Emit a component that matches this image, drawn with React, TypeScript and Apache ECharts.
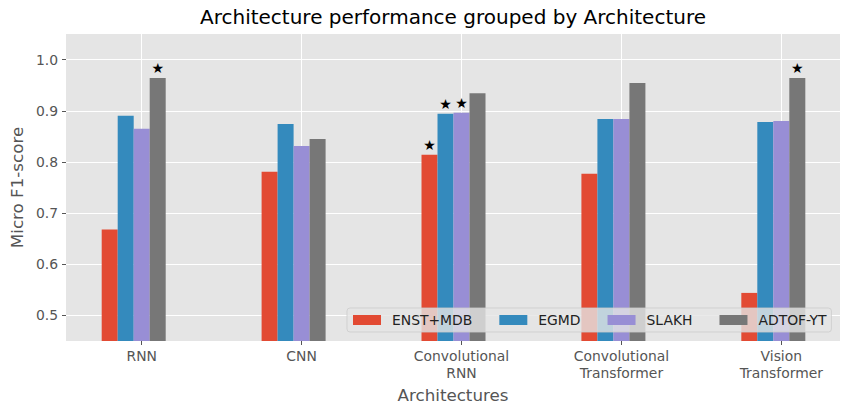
import React, { useEffect, useRef } from "react";
import * as echarts from "echarts";

const categories = ["RNN", "CNN", "Convolutional\nRNN", "Convolutional\nTransformer", "Vision\nTransformer"];
const seriesNames = ["ENST+MDB", "EGMD", "SLAKH", "ADTOF-YT"];
const enstMdb = [0.668, 0.781, 0.814, 0.777, 0.544];
const egmd = [0.890, 0.874, 0.894, 0.884, 0.878];
const slakh = [0.865, 0.831, 0.896, 0.884, 0.880];
const adtofYt = [0.964, 0.845, 0.934, 0.954, 0.964];
// which bars carry a star marker
const starEnstMdb = [false, false, true, false, false];
const starEgmd = [false, false, true, false, false];
const starSlakh = [false, false, true, false, false];
const starAdtofYt = [true, false, false, false, true];
const yTicks = [0.5, 0.6, 0.7, 0.8, 0.9, 1.0];
const xTicks = [0, 1, 2, 3, 4];

const colors = ["#E24A33", "#348ABD", "#988ED5", "#777777"];
const FONT = "DejaVu Sans";

export default function App() {
  const ref = useRef<HTMLDivElement>(null);
  useEffect(() => {
    if (!ref.current) return;
    const chart = echarts.init(ref.current, null, { renderer: "svg" });
    const allValues = [enstMdb, egmd, slakh, adtofYt];
    const allStars = [starEnstMdb, starEgmd, starSlakh, starAdtofYt];
    const series: any[] = seriesNames.map((name, si) => ({
      name,
      type: "bar",
      barWidth: 16,
      barGap: "0%",
      itemStyle: { color: colors[si] },
      data: allValues[si].map((v, i) => ({
        value: [i, v],
        label: allStars[si][i]
          ? {
              show: true,
              position: "top",
              distance: 3,
              formatter: "★",
              fontSize: 14,
              color: "#000",
              fontFamily: FONT,
            }
          : { show: false },
      })),
    }));
    // empty slot so that the third bar of each group sits on the tick (as in the original layout)
    series.push({ name: "_pad", type: "bar", barWidth: 16, barGap: "0%", data: [] });
    chart.setOption({
      animation: false,
      backgroundColor: "#fff",
      textStyle: { fontFamily: FONT },
      title: {
        text: "Architecture performance grouped by Architecture",
        left: 453,
        textAlign: "center",
        top: 7,
        padding: 0,
        textStyle: { fontSize: 20, fontWeight: "normal", color: "#000", fontFamily: FONT },
      },
      legend: {
        data: seriesNames,
        left: 347,
        top: 308,
        orient: "horizontal",
        itemWidth: 28,
        itemHeight: 10,
        itemGap: 27,
        padding: [5, 5, 5, 6],
        backgroundColor: "rgba(229,229,229,0.8)",
        borderColor: "rgba(204,204,204,0.8)",
        borderWidth: 1,
        borderRadius: 3,
        icon: "rect",
        textStyle: { fontSize: 13.9, color: "#222", fontFamily: FONT, padding: [0, 0, 0, 6] },
      },
      grid: { left: 66, right: 10, top: 34, bottom: 73, backgroundColor: "#E5E5E5", show: true, borderWidth: 0 },
      xAxis: {
        type: "value",
        min: -0.4734,
        max: 4.367,
        name: "Architectures",
        nameLocation: "middle",
        nameGap: 45,
        nameTextStyle: { fontSize: 16.7, color: "#555", fontFamily: FONT },
        axisLine: { show: false, onZero: false },
        axisTick: { show: true, customValues: xTicks, length: 4, lineStyle: { color: "#555" } },
        axisLabel: {
          customValues: xTicks,
          formatter: (v: number) => categories[Math.round(v)],
          fontSize: 13.9,
          color: "#555",
          lineHeight: 16.5,
          margin: 7,
          fontFamily: FONT,
        },
        splitLine: { show: true, lineStyle: { color: "#fff", width: 1 } },
      },
      yAxis: {
        type: "value",
        min: 0.45,
        max: 1.05,
        name: "Micro F1-score",
        nameLocation: "middle",
        nameGap: 40,
        nameTextStyle: { fontSize: 16.7, color: "#555", fontFamily: FONT },
        axisLine: { show: false, onZero: false },
        axisTick: { show: true, customValues: yTicks, length: 4, lineStyle: { color: "#555" } },
        axisLabel: {
          customValues: yTicks,
          formatter: (v: number) => v.toFixed(1),
          fontSize: 13.9,
          color: "#555",
          margin: 8,
          fontFamily: FONT,
        },
        splitLine: { show: true, lineStyle: { color: "#fff", width: 1 } },
      },
      series,
    });
    return () => chart.dispose();
  }, []);
  return <div ref={ref} style={{ position: "absolute", left: 0, top: 0, width: 850, height: 414 }} />;
}
